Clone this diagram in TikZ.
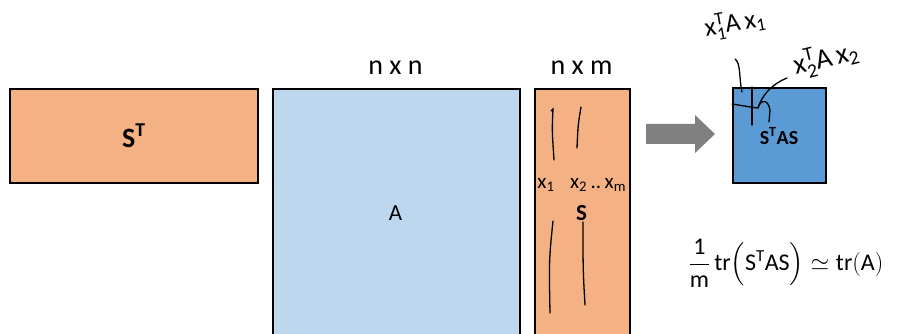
\RequirePackage{fix-cm}
\documentclass[tikz,border=0pt]{standalone}
\usepackage{amsmath, amssymb}
\usepackage{fontspec}
\setmainfont{Carlito}
\usepackage{tikz}
\usetikzlibrary{calc, positioning}

\definecolor{orangeS}{HTML}{F4B183}
\definecolor{blueA}{HTML}{BDD7EE}
\definecolor{blueR}{HTML}{5B9BD5}
\definecolor{arrowgray}{HTML}{808080}

\begin{document}
\begin{tikzpicture}[>=latex, x=1pt, y=-1pt,
    matbox/.style={draw=black, line width=1.6pt, inner sep=0pt, anchor=north west},
    dimtxt/.style={anchor=base, font=\fontsize{28}{30}\selectfont},
    handtxt/.style={inner sep=0pt, font=\fontsize{26}{28}\selectfont},
    hand/.style={line width=1.3pt, line cap=round}]
    % 1. Khung hình
    \useasboundingbox (0,0) rectangle (900,334);
    \clip (0,0) rectangle (900,334);
    % 2. Các ma trận
    \node[matbox, fill=orangeS, minimum width=248, minimum height=94] (ST) at (9,88)
        {\fontsize{28}{30}\selectfont\bfseries S\textsuperscript{T}};
    \node[matbox, fill=blueA, minimum width=247, minimum height=250] (A) at (272,88) {};
    \node[font=\fontsize{23}{25}\selectfont] at (395.5,213) {A};
    \node[matbox, fill=orangeS, minimum width=95, minimum height=250] (S) at (534,88) {};
    \node[font=\fontsize{23}{25}\selectfont\bfseries] (Slab) at (581.5,213) {S};
    \node[dimtxt] (dimA) at (395.5,75) {n x n};
    \node[dimtxt] (dimS) at (581.5,75) {n x m};
    % 3. Mũi tên
    \fill[arrowgray] (646,124) -- (695,124) -- (695,115) -- (715,134)
        -- (695,153) -- (695,144) -- (646,144) -- cycle;
    % 4. Kết quả S^T A S
    \node[matbox, fill=blueR, minimum width=93, minimum height=95] (R) at (732,87) {};
    \node[font=\fontsize{20}{22}\selectfont\bfseries] (Rlab) at (779,136) {S\textsuperscript{T}AS};
    % 5. Các cột x_i
    \draw[hand] (551,111) -- (553,109) .. controls (552,130) .. (554,160);
    \draw[hand] (581,107) .. controls (578,125) .. (577,148);
    \draw[hand] (553,221) .. controls (549,260) .. (550,313);
    \draw[hand] (583,222) .. controls (583,270) .. (585,305);
    \node[handtxt, font=\fontsize{21}{23}\selectfont] (x1) at (546,185)
        {$\text{x}_{\text{1}}$};
    \node[handtxt, font=\fontsize{21}{23}\selectfont] (x2m) at (598,185)
        {$\text{x}_{\text{2}}\,\text{..}\,\text{x}_{\text{m}}$};
    % 6. Chú thích x_i^T A x_i
    \node[handtxt, rotate=10] (q1) at (735,24)
        {$\text{x}_{\text{1}}^{\text{T}}\text{A}\,\text{x}_{\text{1}}$};
    \node[handtxt, rotate=14, font=\fontsize{28}{30}\selectfont] (q2) at (826,59)
        {$\text{x}_{\text{2}}^{\text{T}}\text{A}\,\text{x}_{\text{2}}$};
    \coordinate (p1) at (742,92);
    \coordinate (p2) at (758,108);
    \draw[hand] (735,59) .. controls (741,63) and (739,80) .. (p1);
    \draw[hand] (732,104) .. controls (745,106) .. (757,108);
    \draw[hand] (752,87) -- (752,125);
    \draw[hand] (787,78) .. controls (772,84) and (762,95) .. (p2);
    \draw[hand] (p2) .. controls (760,100) and (768,98) .. (770,110) -- (769,122);
    % 7. Công thức vết
    \node[handtxt, font=\fontsize{24}{26}\selectfont] (tr) at (786,263)
        {$\dfrac{\text{1}}{\text{m}}\,\text{tr}\Bigl(\text{S}^{\text{T}}\text{AS}\Bigr)
        \simeq\text{tr}(\text{A})$};
\end{tikzpicture}
\end{document}
